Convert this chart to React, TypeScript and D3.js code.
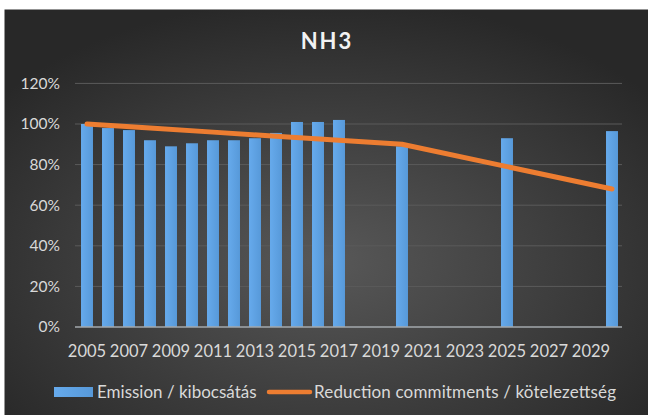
import * as d3 from "d3"

const years = [
  2005, 2006, 2007, 2008, 2009, 2010, 2011, 2012, 2013, 2014, 2015, 2016, 2017,
  2018, 2019, 2020, 2021, 2022, 2023, 2024, 2025, 2026, 2027, 2028, 2029, 2030,
]
// emission relative to 2005 (%), null = no data
const emission: (number | null)[] = [
  100, 98, 97, 92, 89, 90.5, 92, 92, 93, 95.6, 101, 101, 102,
  null, null, 89, null, null, null, null, 93, null, null, null, null, 96.5,
]
// reduction commitment trajectory (%)
const commitYears = [2005, 2008, 2011, 2014, 2017, 2020, 2025, 2030]
const commitValues = [100, 98, 96, 94, 92, 90, 79, 68]
const yTicks = [0, 20, 40, 60, 80, 100, 120]
const tickYears = years.filter((y) => (y - 2005) % 2 === 0 && y < 2030)

const W = 648
const H = 415
const FONT = "Lato, 'Open Sans', sans-serif"

export default function App() {
  const x = d3
    .scaleBand<number>()
    .domain(years)
    .range([76.5, 622.5])
    .paddingInner(0.43)
    .paddingOuter(0.215)
  const y = d3.scaleLinear().domain([0, 120]).range([327, 83.4])

  const cx = (yr: number) => (x(yr) ?? 0) + x.bandwidth() / 2

  const line = d3
    .line<number>()
    .x((_, i) => cx(commitYears[i]))
    .y((d) => y(d))

  return (
    <div style={{ position: "fixed", left: 0, top: 0 }}>
      <svg width={W} height={H} style={{ display: "block" }}>
        <defs>
          <radialGradient id="bg" cx="50%" cy="62%" r="65%">
            <stop offset="0%" stopColor="#585858" />
            <stop offset="100%" stopColor="#282828" />
          </radialGradient>
          <linearGradient id="bar" x1="0" x2="1" y1="0" y2="0">
            <stop offset="0%" stopColor="#66aaec" />
            <stop offset="100%" stopColor="#5799d9" />
          </linearGradient>
        </defs>
        <rect x={0} y={0} width={W} height={H} fill="#ffffff" />
        <rect x={4.5} y={9.5} width={W - 4.5} height={H - 9.5} fill="url(#bg)" />

        <text
          x={327}
          y={49}
          textAnchor="middle"
          fill="#f2f2f2"
          fontFamily={FONT}
          fontWeight="bold"
          fontSize={22}
          letterSpacing={2}
        >
          NH3
        </text>

        {/* gridlines */}
        {yTicks.slice(1).map((t) => (
          <line key={t} x1={75} x2={622} y1={y(t)} y2={y(t)} stroke="#5b5b5b" strokeWidth={1} />
        ))}

        {/* y labels */}
        {yTicks.map((t) => (
          <text
            key={t}
            x={60}
            y={y(t)}
            dy="0.35em"
            textAnchor="end"
            fill="#d9d9d9"
            fontFamily={FONT}
            fontSize={15.5}
          >
            {t}%
          </text>
        ))}

        {/* bars */}
        {years.map((yr, i) =>
          emission[i] == null ? null : (
            <rect
              key={yr}
              x={x(yr)}
              y={y(emission[i] as number)}
              width={x.bandwidth()}
              height={y(0) - y(emission[i] as number)}
              fill="url(#bar)"
            />
          )
        )}

        {/* baseline */}
        <line x1={75} x2={622} y1={y(0)} y2={y(0)} stroke="#a3a8ad" strokeWidth={1.5} />

        {/* commitment line */}
        <path
          d={line(commitValues) ?? ""}
          fill="none"
          stroke="#ed7d31"
          strokeWidth={5}
          strokeLinecap="round"
          strokeLinejoin="round"
        />

        {/* x labels */}
        {tickYears.map((yr) => (
          <text
            key={yr}
            x={cx(yr)}
            y={357}
            textAnchor="middle"
            fill="#d9d9d9"
            fontFamily={FONT}
            fontSize={16.5}
          >
            {yr}
          </text>
        ))}

        {/* legend */}
        <rect x={54} y={387} width={39} height={10} fill="url(#bar)" />
        <text x={97} y={398} fill="#d9d9d9" fontFamily={FONT} fontSize={17}>
          Emission / kibocsátás
        </text>
        <line x1={269} x2={310} y1={392} y2={392} stroke="#ed7d31" strokeWidth={4.5} strokeLinecap="round" />
        <text x={314} y={398} fill="#d9d9d9" fontFamily={FONT} fontSize={17} textLength={302} lengthAdjust="spacing">
          Reduction commitments / kötelezettség
        </text>
      </svg>
    </div>
  )
}
